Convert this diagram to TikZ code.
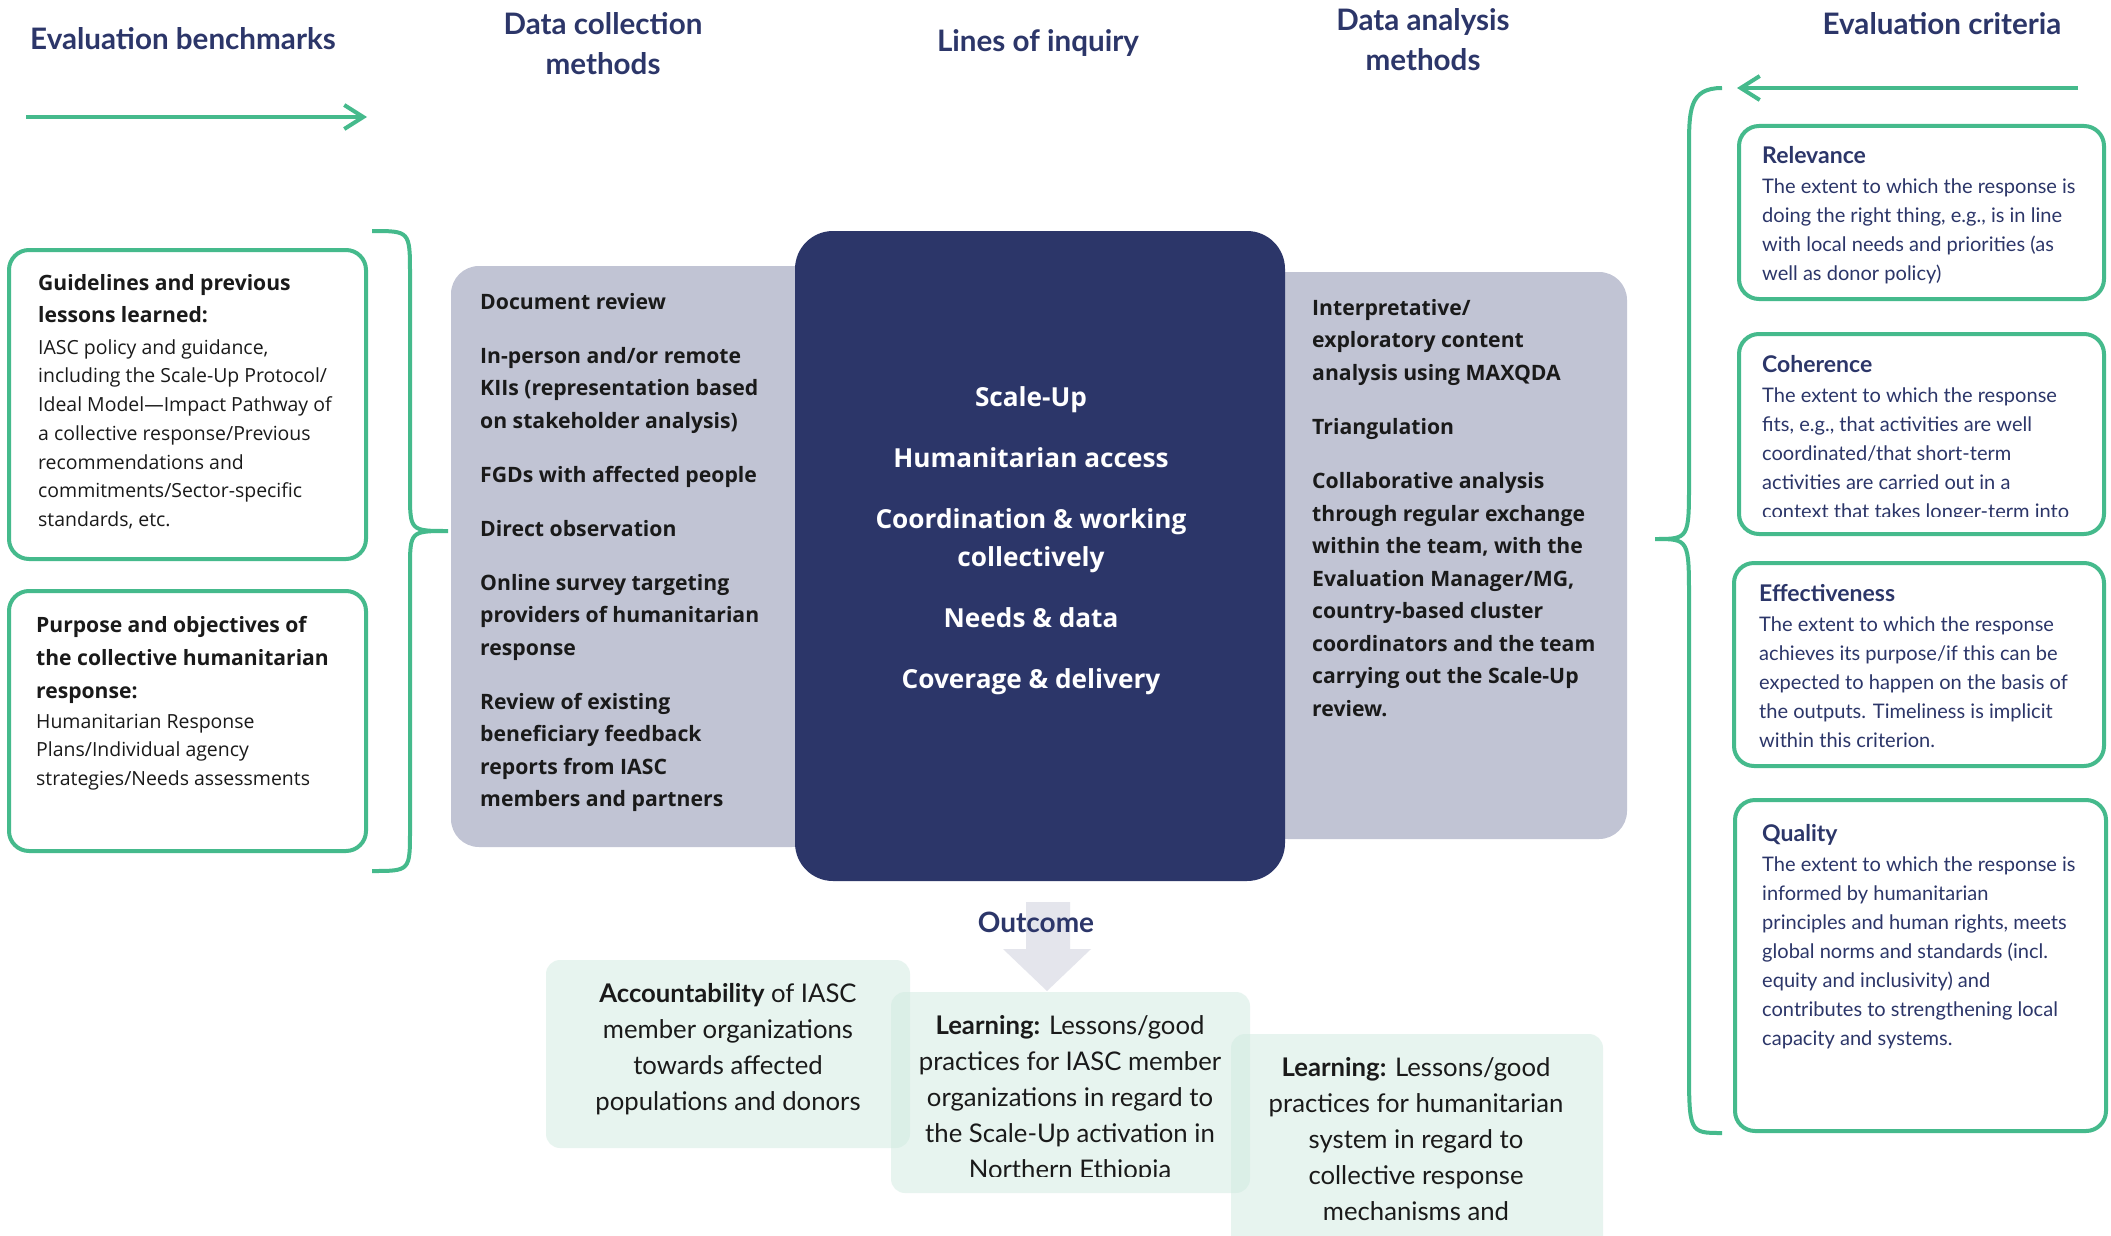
\documentclass[tikz,border=0pt]{standalone}
\usepackage{fontspec}
\setmainfont{Lato}
\newfontfamily\osans{Open Sans}
\usetikzlibrary{arrows.meta}
\definecolor{navy}{HTML}{2C3669}
\definecolor{grn}{HTML}{45BA8C}
\definecolor{greyfill}{HTML}{C1C4D4}
\definecolor{mint}{HTML}{D1EBE1}
\definecolor{arrowgrey}{HTML}{E4E5EC}
\definecolor{ink}{HTML}{1A1A1A}
\newcommand{\fs}[2]{\fontsize{#1pt}{#2pt}\selectfont}
\newcommand{\hb}[1]{{\bfseries\fs{21.1}{28.7}#1}}
\newcommand{\ct}[1]{{\bfseries\fs{23}{29}#1}}
\newcommand{\tp}[1]{\rule{0pt}{#1pt}}
\begin{document}
\begin{tikzpicture}[x=1pt,y=-1pt,
 hdr/.style={font=\bfseries\fs{29.6}{40}, text=navy, align=center, inner sep=0pt, anchor=base},
 gline/.style={draw=grn, line width=4pt},
 gtip/.style={-{Straight Barb[length=19pt,width=24pt]}},
 gbox/.style={draw=grn, line width=4pt, rounded corners=20pt, inner sep=0pt},
 benchtxt/.style={font=\osans\fs{19.45}{28.7}, text=ink, align=left, inner sep=0pt, anchor=north west},
 collbox/.style={fill=greyfill, rounded corners=28pt, inner sep=0pt},
 colltxt/.style={font=\osans\bfseries\fs{21.2}{32.5}, text=ink, align=left, inner sep=0pt, anchor=north west},
 corebox/.style={fill=navy, rounded corners=38pt, inner sep=0pt},
 coretxt/.style={font=\osans\bfseries\fs{26.2}{38}, text=white, align=center, inner sep=0pt, anchor=north},
 crittxt/.style={font=\fs{20.05}{29}, text=navy, align=left, inner sep=0pt, anchor=north west},
 outbox/.style={fill=mint, fill opacity=0.5, rounded corners=14pt, inner sep=0pt},
 outtxt/.style={font=\fs{25.7}{36}, text=ink, align=center, inner sep=0pt, anchor=north},
]
\fill[white] (0,0) rectangle (2111,1236);
\useasboundingbox (0,0) rectangle (2111,1236);

% headers
\node[hdr] (h1) at (183,50) {Evaluation benchmarks};
\node[hdr, anchor=north] (h2) at (603,4) {\tp{30}Data collection\\methods};
\node[hdr] (h3) at (1038,52) {Lines of inquiry};
\node[hdr, anchor=north] (h4) at (1423,0) {\tp{30}Data analysis\\methods};
\node[hdr] (h5) at (1942,35) {Evaluation criteria};

% header arrows
\coordinate (la1) at (26,117);
\coordinate (la2) at (367,117);
\draw[gline,gtip] (la1) -- (la2);
\coordinate (ra1) at (2078,88);
\coordinate (ra2) at (1737,88);
\draw[gline,gtip] (ra1) -- (ra2);

% left boxes
\node[gbox, minimum width=357pt, minimum height=309pt] (b1) at (187.5,404.5) {};
\node[gbox, minimum width=357pt, minimum height=260pt] (b2) at (187.5,721) {};
\node[benchtxt] (b1t) at (38,266) {\tp{24}\hb{Guidelines and previous}\\[3.3pt]
\hb{lessons learned:}\\[3.3pt]
IASC policy and guidance,\\
including the Scale-Up Protocol/\\
Ideal Model—Impact Pathway of\\
a collective response/Previous\\
recommendations and\\
commitments/Sector-specific\\
standards, etc.};
\node[benchtxt] (b2t) at (36,608) {\tp{24}\hb{Purpose and objectives of}\\[4.3pt]
\hb{the collective humanitarian}\\[4.3pt]
\hb{response:}\\[1.3pt]
Humanitarian Response\\
Plans/Individual agency\\
strategies/Needs assessments};

% left brace
\coordinate (lbt) at (372,231);
\coordinate (lbm) at (448,531);
\coordinate (lbb) at (372,871);
\draw[gline] (lbt) .. controls (410,231) .. (410,275) -- (410,492)
  .. controls (410,531) .. (lbm) .. controls (410,531) .. (410,570)
  -- (410,830) .. controls (410,871) .. (lbb);

% grey boxes and core
\node[collbox, minimum width=369pt, minimum height=581pt] (coll) at (635.5,556.5) {};
\node[collbox, minimum width=367pt, minimum height=567pt] (anal) at (1443.5,555.5) {};
\node[corebox, minimum width=490pt, minimum height=650pt] (core) at (1040,556) {};

\node[colltxt] (collt) at (480,285) {\tp{24}Document review\\[21.5pt]
In-person and/or remote\\
KIIs (representation based\\
on stakeholder analysis)\\[21.5pt]
FGDs with affected people\\[21.5pt]
Direct observation\\[21.5pt]
Online survey targeting\\
providers of humanitarian\\
response\\[21.5pt]
Review of existing\\
beneficiary feedback\\
reports from IASC\\
members and partners};

\node[coretxt] (coret) at (1031,376) {\tp{30}Scale-Up\\[23pt]
Humanitarian access\\[23pt]
Coordination \& working\\
collectively\\[23pt]
Needs \& data\\[23pt]
Coverage \& delivery};

\node[colltxt] (analt) at (1312,291) {\tp{24}Interpretative/\\
exploratory content\\
analysis using MAXQDA\\[21.5pt]
Triangulation\\[22pt]
Collaborative analysis\\
through regular exchange\\
within the team, with the\\
Evaluation Manager/MG,\\
country-based cluster\\
coordinators and the team\\
carrying out the Scale-Up\\
review.};

% right brace
\coordinate (rbt) at (1722,88);
\coordinate (rbm) at (1655,539);
\coordinate (rbb) at (1722,1133);
\draw[gline] (rbt) .. controls (1689,88) and (1689,110) .. (1689,150) -- (1689,481)
  .. controls (1689,539) .. (rbm) .. controls (1689,539) .. (1689,600)
  -- (1689,1063) .. controls (1689,1133) .. (rbb);

% criteria boxes
\node[gbox, minimum width=365pt, minimum height=173pt] (c1) at (1921.5,212.5) {};
\node[gbox, minimum width=365pt, minimum height=200pt] (c2) at (1921.5,434) {};
\node[gbox, minimum width=370pt, minimum height=203pt] (c3) at (1919,664.5) {};
\node[gbox, minimum width=371pt, minimum height=331pt] (c4) at (1920.5,965.5) {};

\node[crittxt] (c1t) at (1762,139) {\tp{24}\ct{Relevance}\\[1pt]
The extent to which the response is\\
doing the right thing, e.g., is in line\\
with local needs and priorities (as\\
well as donor policy)};
\begin{scope}
\clip (1739,336) rectangle (2104,516);
\node[crittxt] (c2t) at (1762,348) {\tp{24}\ct{Coherence}\\[1pt]
The extent to which the response\\
fits, e.g., that activities are well\\
coordinated/that short-term\\
activities are carried out in a\\
context that takes longer-term into};
\end{scope}
\node[crittxt] (c3t) at (1759,577) {\tp{24}\ct{Effectiveness}\\[1pt]
The extent to which the response\\
achieves its purpose/if this can be\\
expected to happen on the basis of\\
the outputs. Timeliness is implicit\\
within this criterion.};
\node[crittxt] (c4t) at (1762,817) {\tp{24}\ct{Quality}\\[1pt]
The extent to which the response is\\
informed by humanitarian\\
principles and human rights, meets\\
global norms and standards (incl.\\
equity and inclusivity) and\\
contributes to strengthening local\\
capacity and systems.};

% outcome
\fill[arrowgrey] (1026,902) -- (1070,902) -- (1070,949) -- (1091,949) -- (1047,991)
  -- (1003,949) -- (1026,949) -- cycle;
\node[font=\bfseries\fs{28}{34}, text=navy, inner sep=0pt, anchor=base] (outc) at (1036,932) {Outcome};

\node[outbox, minimum width=364pt, minimum height=188pt] (o1) at (728,1054) {};
\node[outbox, minimum width=359pt, minimum height=201pt] (o2) at (1070.5,1092.5) {};
\node[outbox, minimum width=372pt, minimum height=226pt] (o3) at (1417,1147) {};

\node[outtxt] (o1t) at (728,972) {\tp{30}\textbf{Accountability} of IASC\\
member organizations\\
towards affected\\
populations and donors};
\begin{scope}
\clip (891,992) rectangle (1250,1176);
\node[outtxt] (o2t) at (1070,1004) {\tp{30}\textbf{Learning:} Lessons/good\\
practices for IASC member\\
organizations in regard to\\
the Scale-Up activation in\\
Northern Ethiopia};
\end{scope}
\node[outtxt] (o3t) at (1416,1046) {\tp{30}\textbf{Learning:} Lessons/good\\
practices for humanitarian\\
system in regard to\\
collective response\\
mechanisms and};
\end{tikzpicture}
\end{document}
